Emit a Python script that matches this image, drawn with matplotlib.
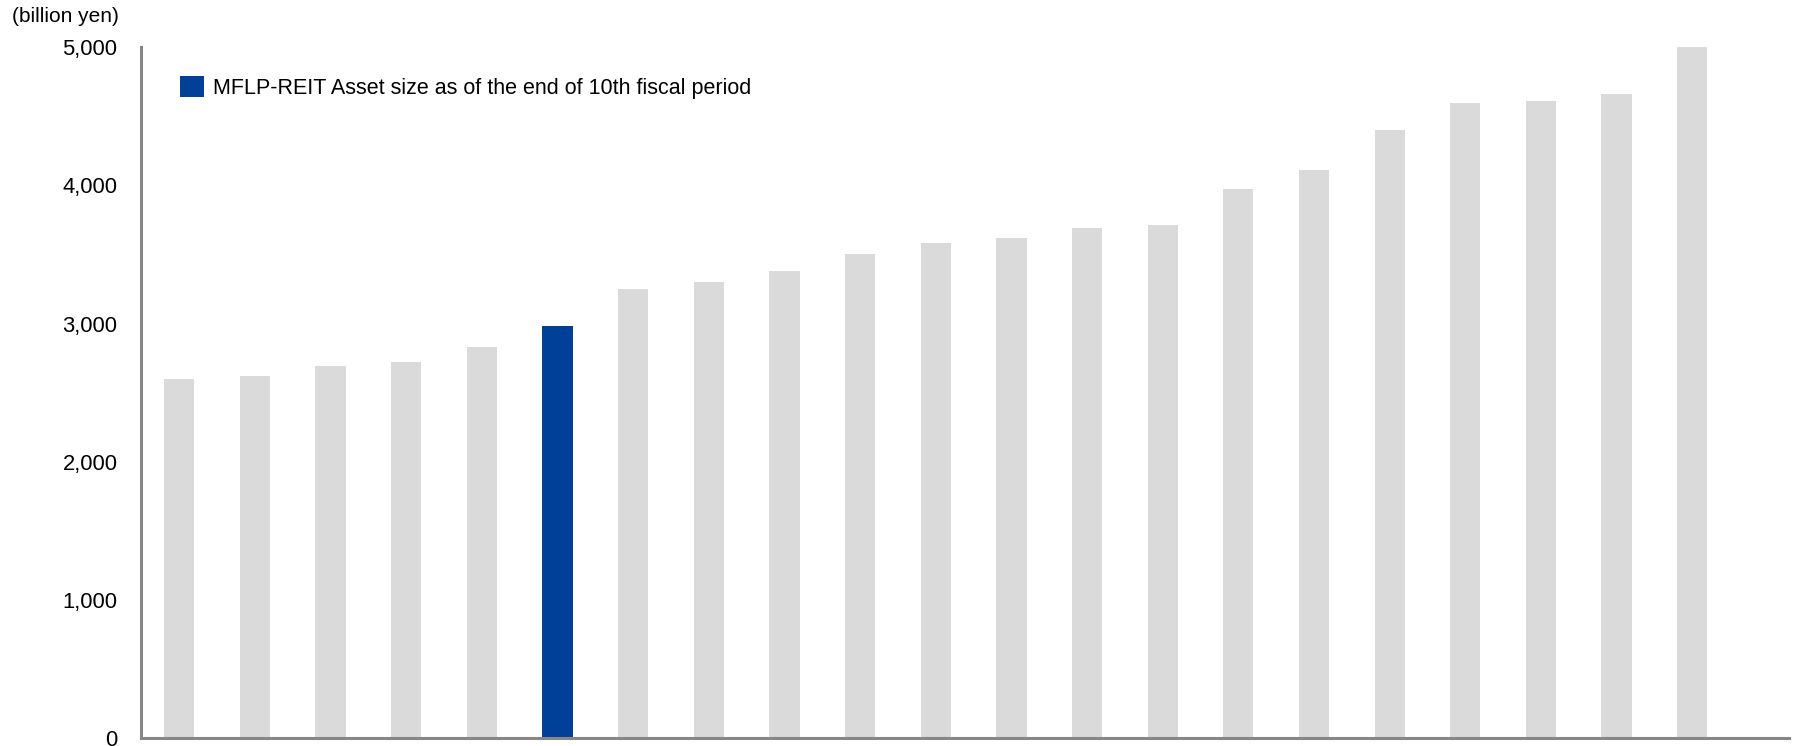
import matplotlib
matplotlib.use("Agg")
import matplotlib.pyplot as plt
from matplotlib.patches import Patch

plt.rcParams['font.family'] = ['Liberation Sans', 'DejaVu Sans']

# Data (billion yen), sorted ascending; index 5 is MFLP-REIT
values = [2600, 2620, 2690, 2718, 2828, 2980, 3248, 3300, 3383, 3500,
          3583, 3618, 3693, 3710, 3975, 4112, 4405, 4598, 4615, 4662, 5000]
highlight_index = 5
legend_label = "MFLP-REIT Asset size as of the end of 10th fiscal period"
y_ticks = [0, 1000, 2000, 3000, 4000, 5000]
y_ticklabels = ["0", "1,000", "2,000", "3,000", "4,000", "5,000"]
unit_label = "(billion yen)"

gray = "#DADADA"
blue = "#004098"

fig = plt.figure(figsize=(18.13, 7.46), dpi=100)
ax = fig.add_axes([0.0778, 0.0111, 0.9090, 0.9254])

x = list(range(len(values)))
colors = [blue if i == highlight_index else gray for i in x]
ax.bar(x, values, width=0.4, color=colors, edgecolor="none", zorder=2)

ax.set_xlim(-0.505, 21.28)
ax.set_ylim(0, 5000)
ax.set_xticks([])
ax.set_yticks(y_ticks)
ax.set_yticklabels(y_ticklabels, fontsize=15.8, color="#000000")
ax.tick_params(axis="y", length=0, pad=17)

for s in ["top", "right"]:
    ax.spines[s].set_visible(False)
for s in ["left", "bottom"]:
    ax.spines[s].set_color("#878787")
    ax.spines[s].set_linewidth(2.2)

fig.text(12 / 1813, 1 - 17 / 746, unit_label, fontsize=15, ha="left", va="center")

handle = Patch(facecolor=blue, edgecolor="none")
ax.legend([handle], [legend_label], loc="center left",
          bbox_to_anchor=(0.0237, 0.942), frameon=False, fontsize=15.5,
          handlelength=1.1, handleheight=1.1, handletextpad=0.45,
          borderpad=0, borderaxespad=0)

fig.savefig("out.png", dpi=100)
